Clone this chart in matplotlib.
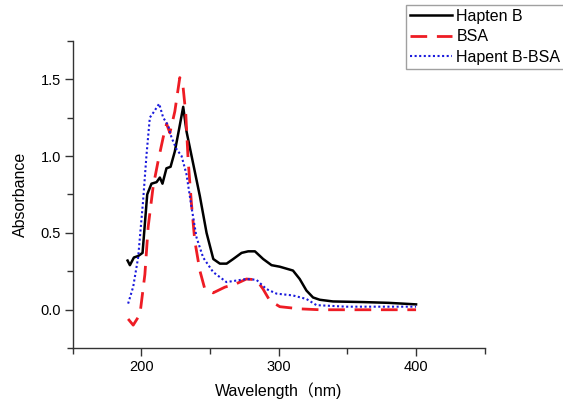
import matplotlib
matplotlib.use('Agg')
import matplotlib.pyplot as plt
from matplotlib.ticker import MultipleLocator, FormatStrFormatter

plt.rcParams['font.family'] = ['Liberation Sans', 'DejaVu Sans']

# Hapten B
hapten_x = [190, 191.7, 194.6, 197.8, 200.9, 204.3, 207.4, 211.1, 213.5, 215.4, 218.3,
            221.3, 224.4, 227.6, 230.5, 232.9, 236.6, 242.6, 247.5, 252.4, 257.2, 262.1,
            266.9, 273, 277.8, 282.7, 288.7, 294.8, 300.8, 310.4, 315.3, 320.2, 325,
            329.9, 339.5, 361.3, 380, 400]
hapten_y = [0.32, 0.29, 0.34, 0.35, 0.37, 0.75, 0.82, 0.83, 0.86, 0.82, 0.92,
            0.93, 1.03, 1.18, 1.32, 1.16, 1.00, 0.74, 0.50, 0.33, 0.30, 0.30,
            0.33, 0.37, 0.38, 0.38, 0.33, 0.29, 0.28, 0.255, 0.20, 0.125, 0.08,
            0.065, 0.054, 0.05, 0.045, 0.035]

# BSA
bsa_x = [190.4, 194.1, 199, 202.6, 205, 208.6, 212.3, 215.9, 218.4, 220.8, 224.4,
         228, 230.4, 232.4, 234.1, 236.5, 238.9, 242.6, 246.2, 252.3, 260.8, 269.3,
         276.5, 283.8, 288.6, 293.5, 300.8, 315.3, 330, 400]
bsa_y = [-0.06, -0.10, -0.03, 0.23, 0.54, 0.80, 0.97, 1.12, 1.21, 1.15, 1.29,
         1.51, 1.45, 1.27, 0.97, 0.69, 0.45, 0.255, 0.136, 0.11, 0.147, 0.17,
         0.20, 0.195, 0.135, 0.06, 0.02, 0.006, 0.0, 0.0]

# Hapent B-BSA
conj_x = [190.4, 194.1, 197.7, 201.3, 203.8, 206.2, 208.6, 213, 215.9, 219.5, 222,
          225.6, 229.3, 232.9, 236.5, 240.2, 245, 252.3, 262, 276.5, 283.8, 291,
          298.4, 310.4, 320.2, 327.5, 349.3, 400]
conj_y = [0.04, 0.15, 0.34, 0.71, 1.01, 1.25, 1.28, 1.34, 1.25, 1.20, 1.12,
          1.045, 1.0, 0.88, 0.67, 0.47, 0.34, 0.245, 0.18, 0.20, 0.195, 0.135,
          0.105, 0.093, 0.07, 0.03, 0.02, 0.02]

fig = plt.figure(figsize=(5.63, 4.03), dpi=100)
ax = fig.add_axes([0.129, 0.136, 0.732, 0.763])

ax.plot(hapten_x, hapten_y, color='black', lw=1.8, label='Hapten B')
ax.plot(bsa_x, bsa_y, color='#ee1c24', lw=2.0, dashes=(6, 3.5), label='BSA')
ax.plot(conj_x, conj_y, color='#1a1adc', lw=1.5, linestyle=(0, (1, 1.2)), label='Hapent B-BSA')

ax.set_xlim(150, 450)
ax.set_ylim(-0.25, 1.75)
ax.xaxis.set_major_locator(MultipleLocator(100))
ax.xaxis.set_minor_locator(MultipleLocator(50))
ax.yaxis.set_major_locator(MultipleLocator(0.5))
ax.yaxis.set_minor_locator(MultipleLocator(0.25))
ax.yaxis.set_major_formatter(FormatStrFormatter('%.1f'))
ax.set_xticks([200, 300, 400])

for side in ['top', 'right']:
    ax.spines[side].set_visible(False)
for side in ['left', 'bottom']:
    ax.spines[side].set_color('#333333')
    ax.spines[side].set_linewidth(1.0)

ax.tick_params(which='both', direction='out', color='#333333', labelsize=10.5, width=1.0)
ax.tick_params(which='major', length=6, pad=2.5)
ax.tick_params(which='minor', length=4)

ax.set_xlabel('Wavelength（nm)', fontsize=11.5, labelpad=6)
ax.xaxis.label.set_family(['Liberation Sans', 'Noto Sans CJK SC'])
ax.set_ylabel('Absorbance', fontsize=11.5, labelpad=9)

leg = fig.legend(loc='upper left', bbox_to_anchor=(406 / 563, 1 - 4.7 / 403),
                 frameon=True, fancybox=False, edgecolor='#888888', fontsize=11.5,
                 handlelength=2.6, labelspacing=0.35, borderpad=0.25,
                 handletextpad=0.3, borderaxespad=0)
leg.get_frame().set_linewidth(1.0)

fig.savefig('out.png', dpi=100)
